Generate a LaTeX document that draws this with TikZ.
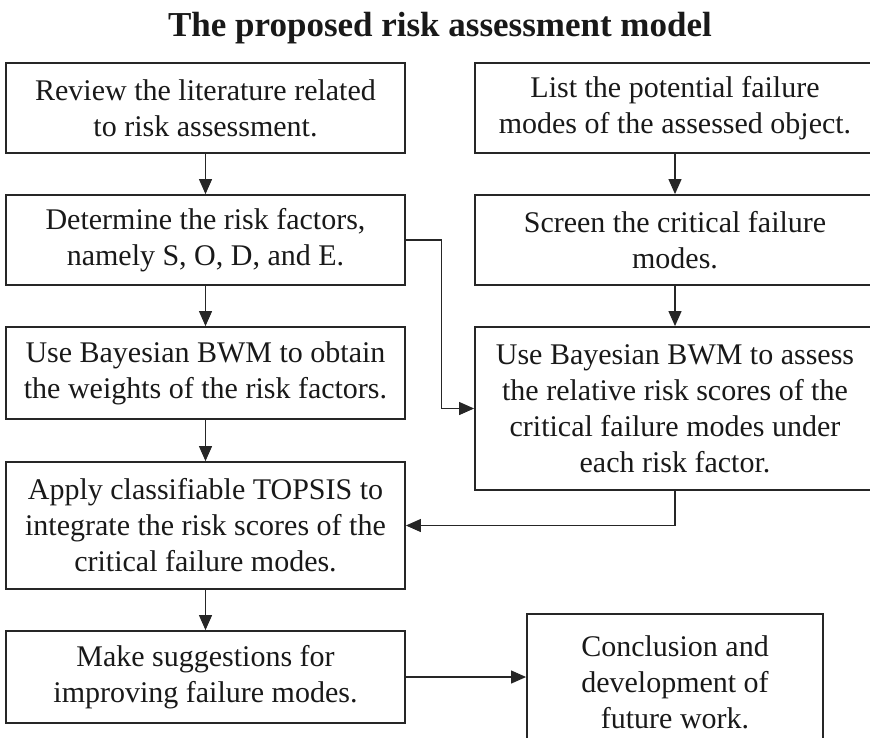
\documentclass[tikz,border=0pt]{standalone}
\usepackage{fontspec}
\setmainfont{Liberation Serif}
\usetikzlibrary{arrows.meta}
\begin{document}
\begin{tikzpicture}[x=1pt,y=-1pt,
  stepbox/.style={draw=black!85, line width=1.8pt, align=center, inner sep=0pt,
    font=\fontsize{30}{36}\selectfont, text=black!90},
  leftcol/.style={stepbox, minimum width=399},
  rightcol/.style={stepbox, minimum width=400},
  link/.style={draw=black!85, line width=1.1pt, -{Triangle[length=15pt,width=13pt]}}]
\useasboundingbox (0,0) rectangle (870,737);
\clip (0,0) rectangle (870,737);

% heading
\node[anchor=base, font=\bfseries\fontsize{35}{40}\selectfont, text=black!90] (title) at (440,36)
  {The proposed risk assessment model};

% left column
\node[leftcol, minimum height=90] (review) at (205.5,108)
  {Review the literature related\\to risk assessment.};
\node[leftcol, minimum height=90] (determine) at (205.5,240)
  {Determine the risk factors,\\namely S, O, D, and E.};
\node[leftcol, minimum height=92] (weights) at (205.5,373)
  {Use Bayesian BWM to obtain\\the weights of the risk factors.};
\node[leftcol, minimum height=127] (topsis) at (205.5,525.5)
  {Apply classifiable TOPSIS to\\integrate the risk scores of the\\critical failure modes.};
\node[leftcol, minimum height=92] (suggest) at (205.5,677)
  {Make suggestions for\\improving failure modes.};

% right column
\node[rightcol, minimum height=90] (list) at (675,108)
  {List the potential failure\\modes of the assessed object.};
\node[rightcol, minimum height=90] (screen) at (675,240)
  {Screen the critical failure\\modes.};
\node[rightcol, minimum height=163] (assess) at (675,408.5)
  {Use Bayesian BWM to assess\\the relative risk scores of the\\critical failure modes under\\each risk factor.};
\node[stepbox, minimum width=296, minimum height=136] (concl) at (675,682)
  {Conclusion and\\development of\\future work.};

% connectors
\draw[link] (review) -- (determine);
\draw[link] (determine) -- (weights);
\draw[link] (weights) -- (topsis);
\draw[link] (topsis) -- (suggest);
\draw[link] (list) -- (screen);
\draw[link] (screen) -- (assess);
\draw[link] (determine.east) -- ++(36,0) |- (assess.west);
\draw[link] (assess.south) |- (topsis.east);
\draw[link] (suggest.east) -- (suggest.east -| concl.west);
\end{tikzpicture}
\end{document}
